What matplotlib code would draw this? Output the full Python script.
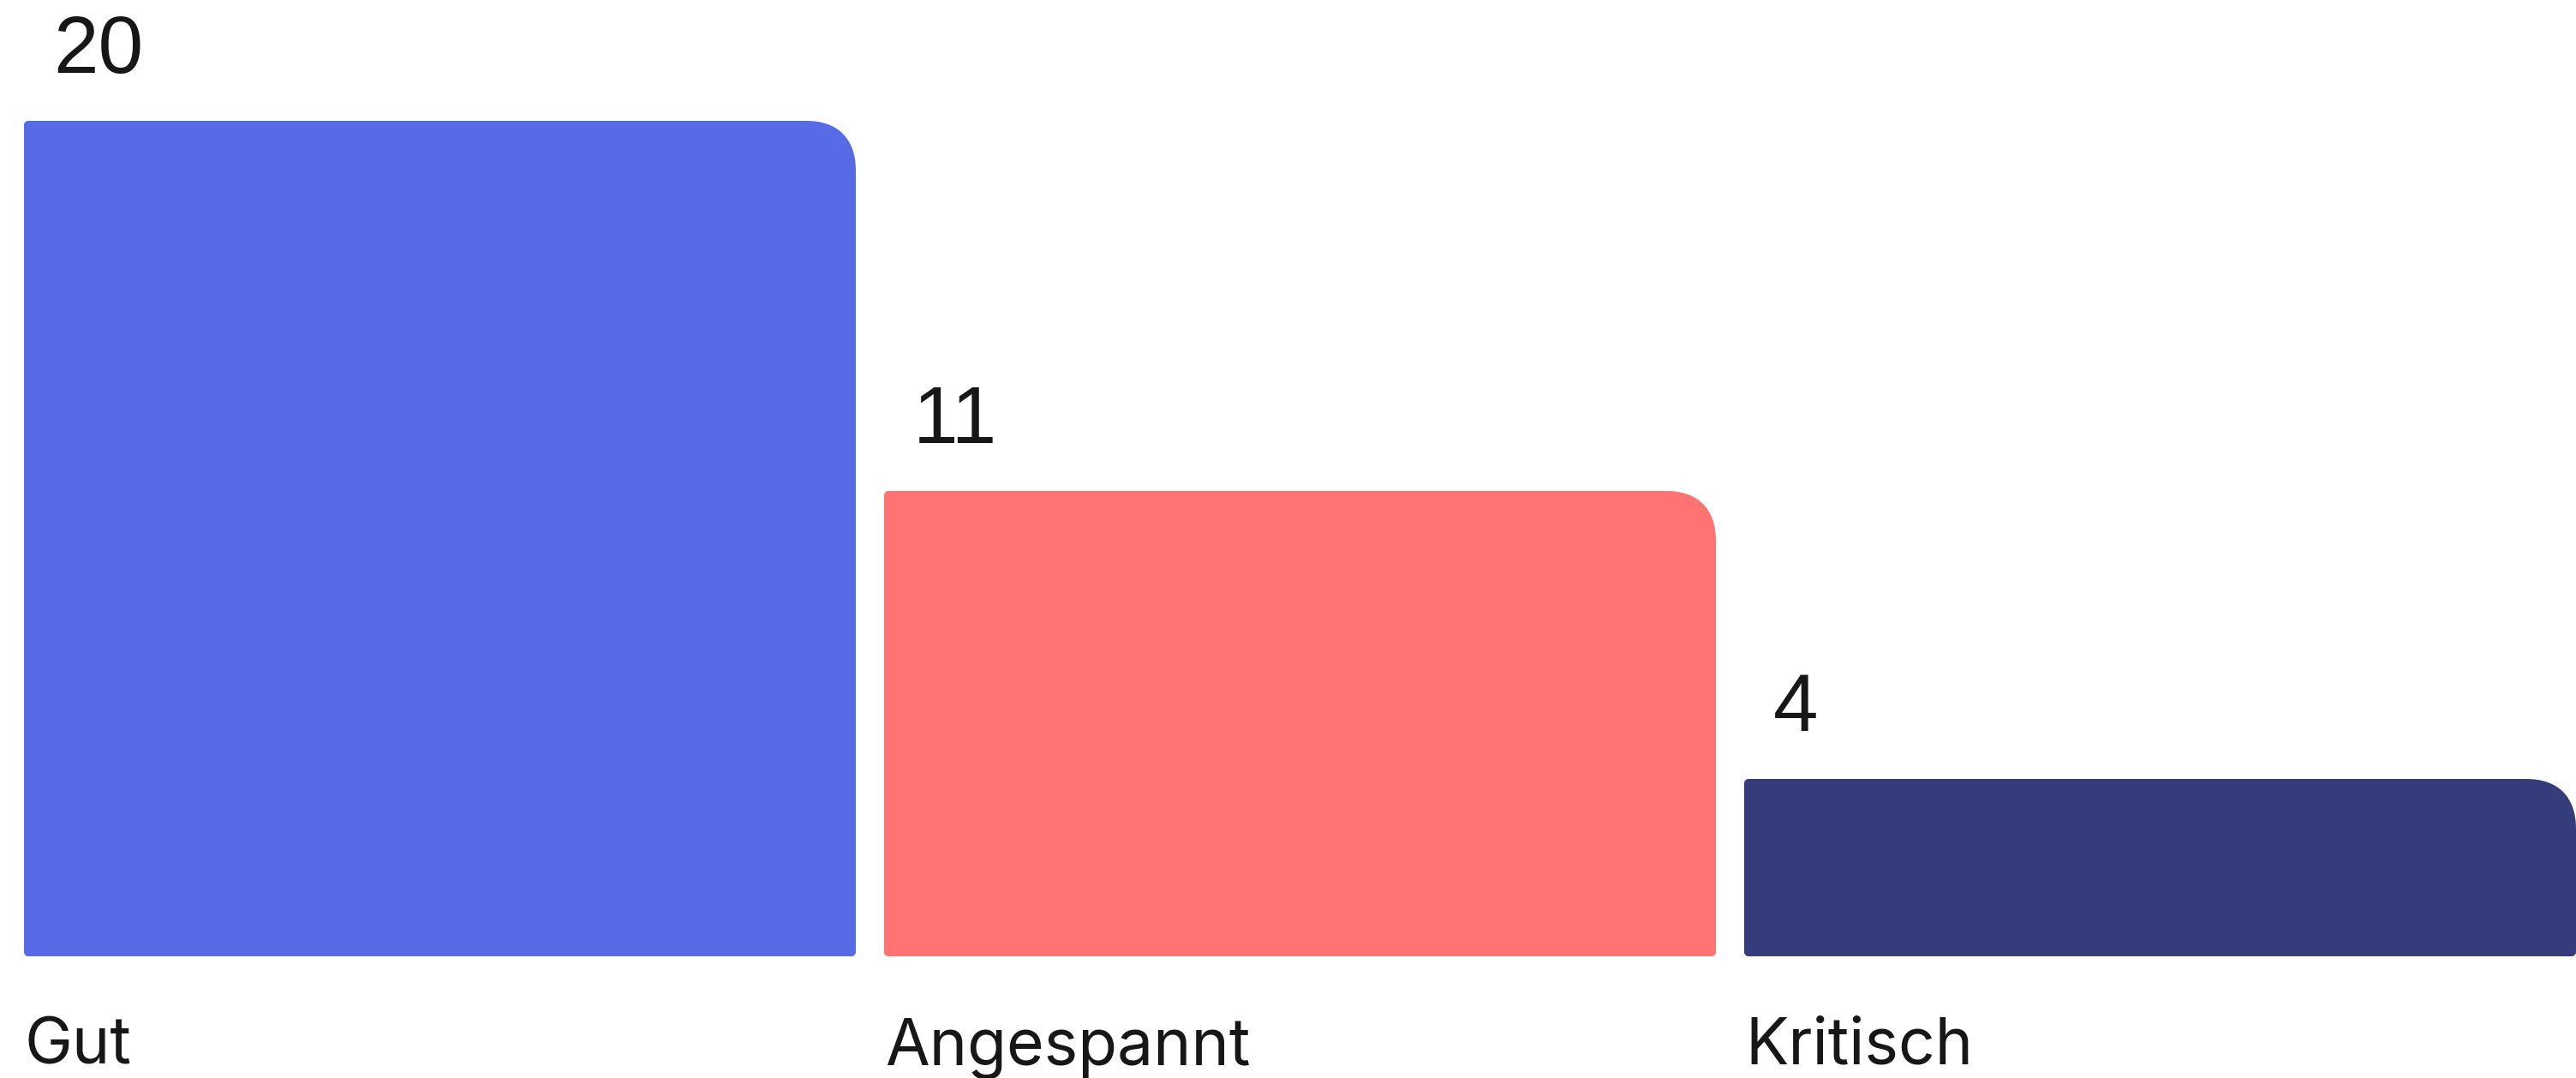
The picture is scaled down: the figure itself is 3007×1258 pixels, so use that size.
import matplotlib.pyplot as plt
from matplotlib.path import Path
from matplotlib.patches import PathPatch

# Daten
kategorien = ['Gut', 'Angespannt', 'Kritisch']
werte = [20, 11, 4]
farben = ['#586BE6', '#FF7472', '#343C7B']

W, H, DPI = 3007, 1258, 100
fig = plt.figure(figsize=(W / DPI, H / DPI), dpi=DPI)
ax = fig.add_axes([0, 0, 1, 1])

# Pixel-Skalen (x: 1004 px pro Kategorie, y: 48 px pro Einheit)
px_x = 1 / 1004
px_y = 1 / 48
ax.set_xlim(-513.5 * px_x, (W - 513.5) * px_x)
ax.set_ylim(-(H - 1101) * px_y, 1101 * px_y)
ax.axis('off')

basis = -15 * px_y
breite = 971 * px_x
balken = ax.bar(range(len(werte)), [v - basis for v in werte], bottom=basis,
                width=breite, color=farben)


def abgerundet(x0, y0, w, h, r_klein, r_gross):
    # Rechteck mit großer Rundung oben rechts, kleine sonst
    k = 0.5523
    K = 0.64
    x1, y1 = x0 + w, y0 + h
    rx, ry = r_klein * px_x, r_klein * px_y
    Rx, Ry = r_gross * px_x, r_gross * px_y
    v = [(x0 + rx, y0), (x1 - rx, y0),
         (x1 - rx + k * rx, y0), (x1, y0 + ry - k * ry), (x1, y0 + ry),
         (x1, y1 - Ry),
         (x1, y1 - Ry + K * Ry), (x1 - Rx + K * Rx, y1), (x1 - Rx, y1),
         (x0 + rx, y1),
         (x0 + rx - k * rx, y1), (x0, y1 - ry + k * ry), (x0, y1 - ry),
         (x0, y0 + ry),
         (x0, y0 + ry - k * ry), (x0 + rx - k * rx, y0), (x0 + rx, y0)]
    c = [Path.MOVETO, Path.LINETO,
         Path.CURVE4, Path.CURVE4, Path.CURVE4,
         Path.LINETO,
         Path.CURVE4, Path.CURVE4, Path.CURVE4,
         Path.LINETO,
         Path.CURVE4, Path.CURVE4, Path.CURVE4,
         Path.LINETO,
         Path.CURVE4, Path.CURVE4, Path.CURVE4]
    return Path(v, c)


for b, farbe in zip(balken, farben):
    b.set_visible(False)
    p = abgerundet(b.get_x(), b.get_y(), b.get_width(), b.get_height(), 5, 58)
    ax.add_patch(PathPatch(p, facecolor=farbe, edgecolor='none'))

for i, (name, wert) in enumerate(zip(kategorien, werte)):
    links = i - breite / 2
    ax.text(links + 34 * px_x, wert + 56 * px_y, str(wert),
            fontsize=68, family='Liberation Sans', color='#171717',
            ha='left', va='baseline')
    ax.text(links + 1 * px_x, -(1242 - 1101) * px_y, name,
            fontsize=54, family='Inter', color='#171717',
            ha='left', va='baseline')

fig.savefig('out.png', dpi=DPI)
